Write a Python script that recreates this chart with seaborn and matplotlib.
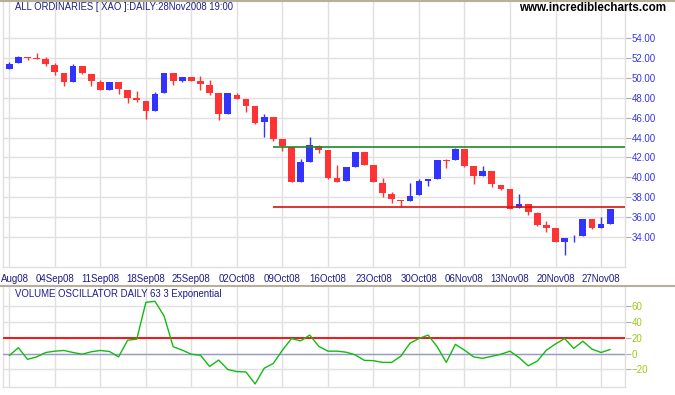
import numpy as np
import pandas as pd
import matplotlib
matplotlib.use("Agg")
import matplotlib.pyplot as plt
import matplotlib.transforms as mtransforms
from matplotlib.lines import Line2D
import seaborn as sns

# --- dados (XAO diario, 28Aug08 a 28Nov08) ---
opens = [50.87, 51.47, 52.13, 52.00, 51.93, 51.33, 50.53, 49.57, 51.20, 50.43,
         49.60, 48.77, 49.63, 48.83, 48.03, 47.73, 46.67, 48.47, 50.53, 49.67,
         50.13, 49.67, 49.33, 48.47, 46.38, 48.27, 47.87, 47.16, 45.54, 46.05,
         43.83, 43.05, 39.50, 41.57, 43.13, 42.73, 39.93, 39.57, 41.07, 42.53,
         41.23, 39.43, 38.33, 37.73, 37.63, 38.17, 39.63, 39.83, 41.73, 41.77,
         42.83, 41.13, 40.17, 40.63, 39.23, 38.83, 36.87, 37.33, 36.43, 35.17,
         34.90, 33.43, 33.93, 34.03, 35.77, 34.93, 35.33]
highs = [51.60, 52.23, 52.15, 52.53, 52.13, 51.53, 50.53, 51.43, 51.20, 50.43,
         49.77, 49.63, 49.63, 48.83, 48.73, 47.73, 48.63, 50.53, 50.53, 50.13,
         50.13, 50.23, 49.83, 48.47, 48.47, 48.47, 47.87, 47.16, 46.38, 46.05,
         43.83, 43.05, 41.80, 44.10, 43.22, 42.73, 41.23, 41.03, 42.53, 42.53,
         41.23, 39.93, 38.50, 37.73, 39.37, 39.83, 39.83, 41.73, 41.80, 42.97,
         42.83, 41.13, 41.13, 40.63, 39.23, 38.83, 38.33, 37.33, 36.50, 35.60,
         34.90, 33.90, 34.17, 35.77, 35.77, 36.00, 36.77]
lows = [50.87, 51.47, 51.77, 51.87, 51.17, 50.27, 49.17, 49.57, 50.37, 49.17,
        48.77, 48.77, 48.37, 47.47, 47.57, 45.87, 46.67, 48.47, 49.27, 49.57,
        49.67, 48.77, 48.27, 45.78, 46.38, 47.87, 46.59, 45.37, 44.06, 43.69,
        42.65, 39.52, 39.50, 41.57, 42.47, 39.77, 39.47, 39.57, 41.07, 41.27,
        39.47, 38.03, 37.40, 37.00, 37.63, 38.17, 39.07, 39.83, 40.93, 41.77,
        41.07, 39.33, 40.17, 38.97, 38.67, 36.83, 36.87, 36.17, 35.13, 34.47,
        33.43, 32.13, 33.47, 34.03, 34.80, 34.93, 35.33]
closes = [51.43, 52.13, 52.03, 51.90, 51.37, 50.60, 49.57, 51.20, 50.47, 49.67,
          48.77, 49.63, 48.87, 48.03, 47.77, 46.67, 48.43, 50.53, 49.67, 50.13,
          49.67, 49.37, 48.47, 46.38, 48.47, 47.87, 47.19, 45.51, 46.05, 43.83,
          43.15, 39.52, 41.50, 43.22, 42.77, 39.97, 39.53, 41.03, 42.53, 41.27,
          39.47, 38.37, 37.77, 37.63, 38.13, 39.63, 39.83, 41.73, 41.67, 42.83,
          41.17, 40.17, 40.63, 39.27, 38.83, 36.83, 37.33, 36.47, 35.20, 34.90,
          33.43, 33.90, 33.97, 35.77, 34.93, 35.30, 36.77]

vol_osc = [-2.6, 7.4, -7.4, -4.3, 1.3, 3.0, 3.9, 1.3, -0.9, 2.2,
           3.9, 2.6, -4.3, 17.0, 18.3, 65.2, 66.5, 47.8, 8.7, 4.3,
           -0.9, -2.2, -16.5, -8.3, -20.4, -23.0, -23.5, -38.7, -18.7, -12.6,
           4.3, 19.1, 16.1, 23.5, 9.1, 3.0, 3.0, 1.7, -1.7, -8.7,
           -9.1, -11.3, -11.3, -3.5, 13.0, 19.1, 23.5, 8.7, -11.3, 11.7,
           4.3, -4.3, -6.1, -3.5, -0.9, 3.0, -5.2, -15.7, -9.6, 4.3,
           12.2, 19.1, 6.5, 15.7, 5.7, 1.3, 5.2]

# o primeiro rotulo aparece cortado na borda ("Aug08")
tick_labels = ['Aug08', '04Sep08', '11Sep08', '18Sep08', '25Sep08', '02Oct08',
               '09Oct08', '16Oct08', '23Oct08', '30Oct08', '06Nov08', '13Nov08',
               '20Nov08', '27Nov08']
tick_pos = list(range(0, 5 * len(tick_labels), 5))   # toda quinta-feira

price_ticks = [34, 36, 38, 40, 42, 44, 46, 48, 50, 52, 54]
osc_ticks = [-20, 0, 20, 40, 60]
resistance = 43.0
support = 37.0
line_start = 29      # 08Oct08

# --- estetica ---
sns.set_theme(style="white")
plt.rcParams['font.family'] = ['Liberation Sans', 'DejaVu Sans']

df = pd.DataFrame({'idx': np.arange(len(opens)), 'open': opens, 'high': highs,
                   'low': lows, 'close': closes, 'osc': vol_osc})
df['up'] = df['close'] >= df['open']

fig = plt.figure(figsize=(6.75, 3.95), dpi=100)
fig.patch.set_facecolor('white')
ax = fig.add_axes([0.0049, 0.3248, 0.9206, 0.6701])
ax2 = fig.add_axes([0.0049, 0.0195, 0.9206, 0.2539])

grid_c = '#e0e0e0'
red_c = '#ff3333'
blue_c = '#3333ff'
xlim = (-0.66, 67.6)

# ============ painel de precos (candles) ============
colors = np.where(df['up'], blue_c, red_c)
ax.vlines(df['idx'], df['low'], df['high'], colors=colors, lw=1, zorder=3)
body_bottom = df[['open', 'close']].min(axis=1)
body_h = (df['close'] - df['open']).abs().clip(lower=0.08)
ax.bar(df['idx'], body_h, bottom=body_bottom, width=0.74, color=colors,
       linewidth=0, zorder=4)

ax.hlines([resistance], line_start, xlim[1], colors='#1f8a2a', lw=1.2, zorder=5)
ax.hlines([support], line_start, xlim[1], colors='#dd1111', lw=1.2, zorder=5)

ax.set_xlim(*xlim)
ax.set_ylim(30.98, 57.66)
ax.set_yticks(price_ticks)
ax.set_yticklabels([f'{v:.2f}' for v in price_ticks])
ax.yaxis.tick_right()
ax.set_xticks(tick_pos)
ax.set_xticklabels(tick_labels)
ax.tick_params(axis='y', length=4, width=0.8, color='#b0b0b0', pad=1,
               labelsize=7, labelcolor='#3535f0')
ax.tick_params(axis='x', length=3, width=0.8, color='#b0b0b0', pad=2,
               labelsize=7, labelcolor='#1c1c8a')
# rotulo cortado: encosta na borda esquerda
first = ax.get_xticklabels()[0]
first.set_horizontalalignment('left')
first.set_transform(first.get_transform() +
                    mtransforms.ScaledTranslation(-0.088, 0, fig.dpi_scale_trans))
ax.grid(True, color=grid_c, lw=1)
ax.set_axisbelow(True)
for s in ax.spines.values():
    s.set_color(grid_c)
    s.set_linewidth(1)
ax.spines['top'].set_visible(False)

# ============ painel do oscilador de volume ============
ax2.axhline(20, color='#ff0000', lw=1.3, zorder=3)
ax2.axhline(0, color='#9a9ac8', lw=1, zorder=3)
sns.lineplot(data=df, x='idx', y='osc', ax=ax2, color='#11bb11', lw=1, zorder=4)
ax2.set_xlim(*xlim)
ax2.set_ylim(-43, 84.7)
ax2.set_yticks(osc_ticks)
ax2.yaxis.tick_right()
ax2.set_xticks(tick_pos)
ax2.set_xticklabels([])
ax2.set_xlabel('')
ax2.set_ylabel('')
ax2.tick_params(axis='y', length=4, width=0.8, color='#b0b0b0', pad=1,
                labelsize=7, labelcolor='#99cc11')
ax2.tick_params(axis='x', length=3, width=0.8, color='#b0b0b0')
ax2.grid(True, color=grid_c, lw=1)
ax2.set_axisbelow(True)
for s in ax2.spines.values():
    s.set_color(grid_c)
    s.set_linewidth(1)
ax2.spines['top'].set_visible(False)

# ============ textos e molduras ============
fig.text(0.0222, 0.982, 'ALL ORDINARIES [ XAO ]:DAILY:28Nov2008 19:00',
         fontsize=6.85, color='#1c1c8a', va='center', ha='left')
fig.text(0.9867, 0.979, 'www.incrediblecharts.com', fontsize=8.4,
         fontweight='bold', color='black', va='center', ha='right')
fig.text(0.0222, 0.2557, 'VOLUME OSCILLATOR DAILY 63 3 Exponential',
         fontsize=6.9, color='#1c1c8a', va='center', ha='left')

fig.add_artist(Line2D([0, 1], [0.9975, 0.9975], color='#b4b09c', lw=1.5))
fig.add_artist(Line2D([0, 1], [0.2772, 0.2772], color='#b4b09c', lw=1.5))

fig.savefig('out.png', dpi=100, facecolor='white')
plt.close(fig)
